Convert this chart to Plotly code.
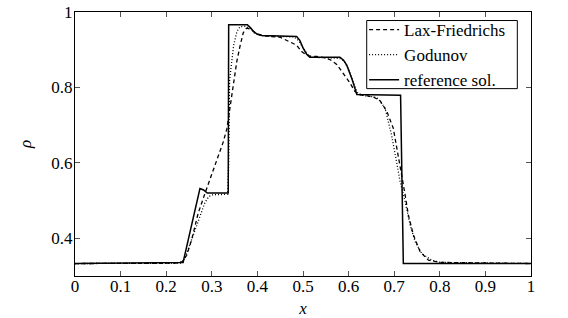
import plotly.graph_objects as go

# Reference solution
x_ref = [0, 0.237, 0.274, 0.282, 0.29, 0.336, 0.337, 0.378, 0.385, 0.392, 0.40, 0.41,
         0.486, 0.493, 0.50, 0.508, 0.515, 0.581, 0.589, 0.596, 0.607, 0.614, 0.618,
         0.714, 0.72, 1.0]
y_ref = [0.333, 0.336, 0.532, 0.528, 0.52, 0.52, 0.966, 0.966, 0.958, 0.948, 0.941, 0.938,
         0.935, 0.925, 0.905, 0.888, 0.880, 0.880, 0.872, 0.859, 0.824, 0.795, 0.781,
         0.779, 0.333, 0.333]

# Lax-Friedrichs
x_lf = [0, 0.22, 0.235, 0.245, 0.256, 0.27, 0.285, 0.30, 0.314, 0.325, 0.333, 0.340,
        0.347, 0.355, 0.362, 0.369, 0.376, 0.385, 0.398, 0.42, 0.45, 0.464, 0.475, 0.486,
        0.497, 0.508, 0.515, 0.53, 0.55, 0.559, 0.574, 0.588, 0.603, 0.614, 0.625, 0.640,
        0.655, 0.669, 0.684, 0.698, 0.709, 0.716, 0.724, 0.731, 0.742, 0.757, 0.775, 0.80, 1.0]
y_lf = [0.333, 0.334, 0.338, 0.355, 0.397, 0.466, 0.519, 0.572, 0.62, 0.655, 0.69, 0.75,
        0.81, 0.87, 0.91, 0.945, 0.957, 0.955, 0.942, 0.936, 0.933, 0.925, 0.92, 0.912,
        0.895, 0.886, 0.883, 0.882, 0.878, 0.874, 0.861, 0.838, 0.812, 0.789, 0.78, 0.778,
        0.774, 0.765, 0.736, 0.692, 0.621, 0.577, 0.515, 0.462, 0.409, 0.364, 0.342, 0.336, 0.333]

# Godunov
x_god = [0, 0.236, 0.245, 0.26, 0.275, 0.285, 0.293, 0.30, 0.335, 0.337, 0.339, 0.344,
         0.348, 0.355, 0.362, 0.375, 0.385, 0.395, 0.41, 0.48, 0.49, 0.50, 0.51, 0.52,
         0.58, 0.59, 0.60, 0.61, 0.62, 0.635, 0.655, 0.665, 0.68, 0.687, 0.694, 0.705,
         0.713, 0.724, 0.735, 0.746, 0.76, 0.782, 0.80, 1.0]
y_god = [0.333, 0.334, 0.36, 0.41, 0.46, 0.495, 0.51, 0.515, 0.517, 0.6, 0.82, 0.869,
         0.912, 0.948, 0.961, 0.962, 0.955, 0.943, 0.937, 0.934, 0.925, 0.905, 0.888, 0.88,
         0.877, 0.87, 0.848, 0.815, 0.785, 0.778, 0.775, 0.77, 0.745, 0.71, 0.675, 0.604,
         0.55, 0.497, 0.435, 0.391, 0.36, 0.342, 0.336, 0.333]

x_ticks = [0, 0.1, 0.2, 0.3, 0.4, 0.5, 0.6, 0.7, 0.8, 0.9, 1]
x_tick_labels = ["0", "0.1", "0.2", "0.3", "0.4", "0.5", "0.6", "0.7", "0.8", "0.9", "1"]
y_ticks = [0.4, 0.6, 0.8, 1]
y_tick_labels = ["0.4", "0.6", "0.8", "1"]

FONT = "'Liberation Serif', 'Times New Roman', serif"

fig = go.Figure()
fig.add_trace(go.Scatter(x=x_lf, y=y_lf, mode="lines", name="Lax-Friedrichs",
                         line=dict(color="black", width=1.3, dash="4px,3px")))
fig.add_trace(go.Scatter(x=x_god, y=y_god, mode="lines", name="Godunov",
                         line=dict(color="black", width=1.3, dash="1px,2px")))
fig.add_trace(go.Scatter(x=x_ref, y=y_ref, mode="lines", name="reference sol.",
                         line=dict(color="black", width=1.5)))

axis_common = dict(showline=True, linecolor="black", linewidth=1.2, mirror="ticks",
                   ticks="inside", ticklen=5, tickcolor="#555", tickwidth=1,
                   showgrid=False, zeroline=False,
                   tickfont=dict(family=FONT, size=17, color="black"))

fig.update_xaxes(range=[0, 1], tickvals=x_ticks, ticktext=x_tick_labels,
                 ticklabelstandoff=-6,
                 title=dict(text="<i>x</i>", font=dict(family=FONT, size=17, color="black"),
                            standoff=10),
                 **axis_common)
fig.update_yaxes(range=[0.3, 1.0], tickvals=y_ticks, ticktext=y_tick_labels,
                 ticklabelstandoff=-2,
                 title=dict(text="<i>ρ</i>", font=dict(family=FONT, size=17, color="black"),
                            standoff=15),
                 **axis_common)

# legend frame (decoration behind the legend entries)
fig.add_shape(type="rect", xref="paper", yref="paper",
              x0=0.6397, x1=0.970, y0=0.7097, y1=0.9677,
              line=dict(color="black", width=1), fillcolor="white", layer="above")

fig.update_layout(
    width=568, height=318,
    margin=dict(l=75, r=37, t=12, b=42, autoexpand=False),
    plot_bgcolor="white", paper_bgcolor="white",
    font=dict(family=FONT, size=17, color="black"),
    legend=dict(x=0.634, y=1.0, xanchor="left", yanchor="top",
                borderwidth=0, bgcolor="rgba(0,0,0,0)",
                font=dict(family=FONT, size=17, color="black"),
                itemwidth=30, tracegroupgap=0),
    showlegend=True,
)

fig.write_html("out.html", config={"displayModeBar": False},
               post_script="document.body.style.margin='0';document.body.style.overflow='hidden';")
